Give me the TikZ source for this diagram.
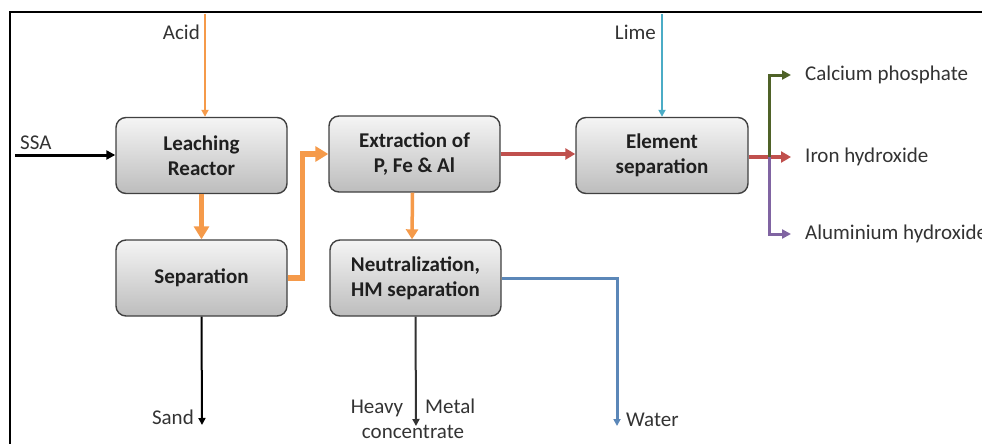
\documentclass[tikz,border=0pt]{standalone}
\usepackage{fontspec}
\setmainfont{Carlito}
\usetikzlibrary{arrows.meta,calc}
\definecolor{cOrange}{HTML}{F59A4A}
\definecolor{cTeal}{HTML}{4BACC6}
\definecolor{cRed}{HTML}{C0504D}
\definecolor{cGreen}{HTML}{4F6228}
\definecolor{cPurple}{HTML}{8064A2}
\definecolor{cBlue}{HTML}{5B87B8}
\definecolor{cText}{HTML}{333333}
\tikzset{
  procbox/.style={draw=black!75, line width=1.4pt, rounded corners=10pt,
    top color=black!4, bottom color=black!26, align=center,
    minimum width=171pt, minimum height=76pt, inner sep=0pt,
    font=\fontsize{21}{25}\selectfont\bfseries, text=black!88},
  lbl/.style={font=\fontsize{21}{25}\selectfont, text=cText, inner sep=0pt, align=center},
  tipS/.style={-{Triangle[length=7pt,width=7pt]}},
  tipM/.style={-{Triangle[length=9pt,width=9pt]}},
  tipL/.style={-{Triangle[length=13pt,width=15pt]}},
}
\begin{document}
\begin{tikzpicture}[x=1pt,y=-1pt]
\useasboundingbox (0,0) rectangle (982,444);
% frame
\draw[line width=2pt] (10,446) -- (10,12) -- (984,12);

% boxes
\node[procbox] (leach) at (201.5,155.5) {Leaching\\Reactor};
\node[procbox] (extr)  at (414.5,154)   {Extraction of\\P, Fe \& Al};
\node[procbox, minimum width=172pt] (elem) at (662,155.5) {Element\\separation};
\node[procbox] (sep)   at (201.5,278)   {Separation};
\node[procbox] (neut)  at (415.5,278)   {Neutralization,\\HM separation};

% labels
\node[lbl, anchor=east] (acid) at (200,32) {Acid};
\node[lbl, anchor=east] (lime) at (656,32) {Lime};
\node[lbl, anchor=west] (ssa)  at (20,143) {SSA};
\node[lbl, anchor=west] (calc) at (805,75)  {Calcium phosphate};
\node[lbl, anchor=west] (iron) at (805,157) {Iron hydroxide};
\node[lbl, anchor=west] (alum) at (805,234) {Aluminium hydroxide};
\node[lbl, anchor=east] (sand) at (194,417) {Sand};
\node[lbl] (hm) at (413,419) {Heavy\hspace{22pt}Metal\\concentrate};
\node[lbl, anchor=west] (water) at (626,420) {Water};

% free ends
\coordinate (acidsrc) at (205,14);
\coordinate (limesrc) at (662,14);
\coordinate (ssasrc) at (15,155);
\coordinate (split) at (769,157);
\coordinate (sandend) at (202,425);
\coordinate (hmend) at (416,426);
\coordinate (waterend) at (617,426);

% connectors
\draw[cOrange, line width=2.5pt, tipS] (acidsrc) -- (acidsrc |- leach.north);
\draw[cTeal, line width=2.5pt, tipS] (limesrc) -- (limesrc |- elem.north);
\draw[black, line width=3pt, tipM] (ssasrc) -- (ssasrc -| leach.west);
\draw[cOrange, line width=5.5pt, tipL] (leach.south) -- (sep.north);
\draw[cOrange, line width=5.5pt, tipL] (sep.east) -- ++(15,0) |- (extr.west);
\draw[cOrange, line width=3.5pt, -{Triangle[length=10pt,width=12pt]}] ($(extr.south)+(-2,0)$) -- ($(neut.north)+(-3.5,0)$);
\draw[cRed, line width=3.5pt, -{Triangle[length=10pt,width=11pt]}] (extr.east) -- (extr.east -| elem.west);
\draw[cRed, line width=3.5pt, -{Triangle[length=10pt,width=11pt]}] ($(elem.east)+(0,1.5)$) -- ($(iron.west)+(-14,0)$);
\draw[cGreen, line width=3pt, tipM] (split) |- ($(calc.west)+(-14,0)$);
\draw[cPurple, line width=3pt, tipM] (split) |- ($(alum.west)+(-14,0)$);
\draw[black, line width=2pt, tipS] (sep.south) -- (sandend);
\draw[black!80, line width=2pt, tipS] (neut.south) -- (hmend);
\draw[cBlue, line width=3pt, tipS] (neut.east) -| (waterend);
\end{tikzpicture}
\end{document}
